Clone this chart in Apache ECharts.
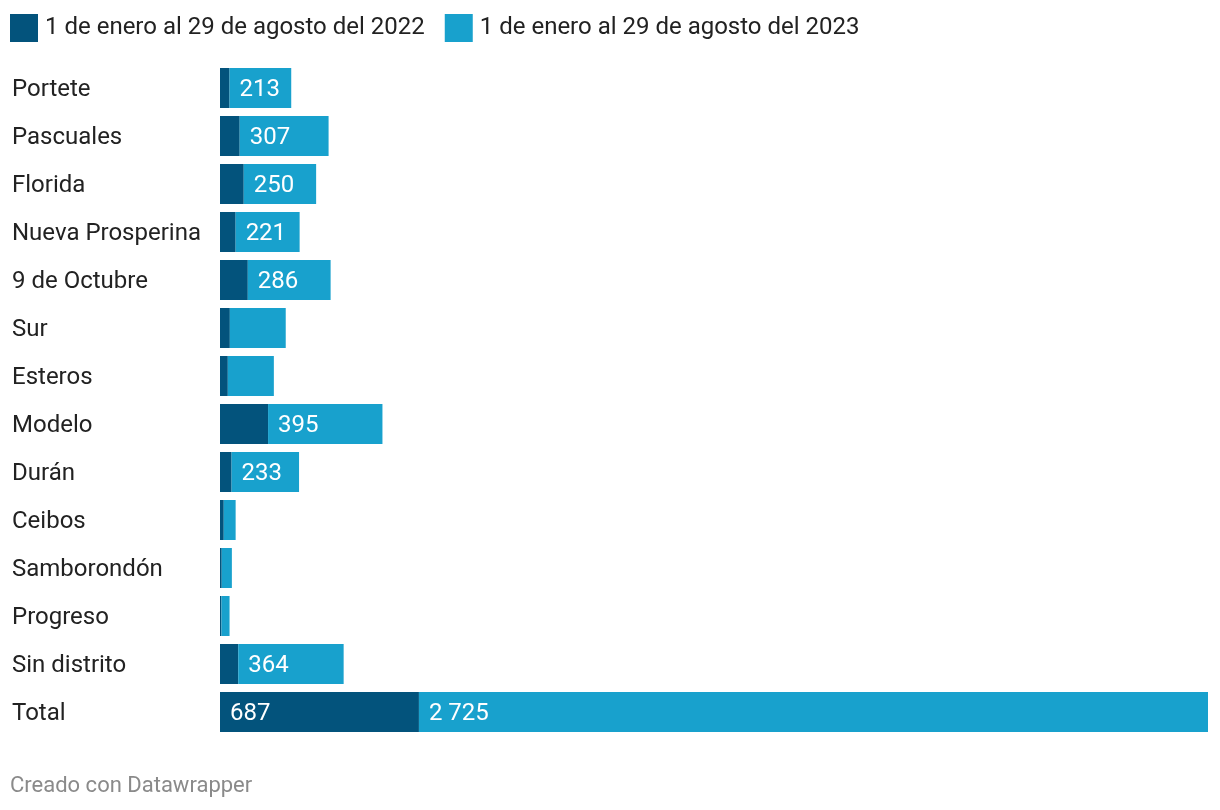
<!DOCTYPE html>
<html><head><meta charset="utf-8">
<script src="https://cdn.jsdelivr.net/npm/echarts@6/dist/echarts.min.js"></script>
<style>html,body{margin:0;padding:0;background:#fff}#c{width:1220px;height:810px}</style>
</head><body><div id="c"></div>
<script>
const categories = ["Portete","Pascuales","Florida","Nueva Prosperina","9 de Octubre","Sur","Esteros","Modelo","Durán","Ceibos","Samborondón","Progreso","Sin distrito","Total"];
const values2022 = [33,68,82,54,96,34,27,166,40,13,6,5,63,687];
const values2023 = [213,307,250,221,286,193,159,395,233,41,35,28,364,2725];
const labeled2022 = ["Total"];
const labeled2023 = ["Portete","Pascuales","Florida","Nueva Prosperina","9 de Octubre","Modelo","Durán","Sin distrito","Total"];
const seriesNames = ["1 de enero al 29 de agosto del 2022","1 de enero al 29 de agosto del 2023"];

const fmt = v => String(v).replace(/\B(?=(\d{3})+(?!\d))/g, " ");
const font = "Roboto, 'Noto Sans', sans-serif";
const chart = echarts.init(document.getElementById('c'), null, {renderer:'canvas'});
const lbl = (cat) => ({show:true, position:'insideLeft', distance:10, offset:[0,2], color:'#fff', fontSize:24, fontFamily:font, formatter:p=>fmt(p.value)});
chart.setOption({
  animation:false,
  textStyle:{fontFamily:font},
  legend:{left:10, top:14, padding:0, itemWidth:28, itemHeight:28, itemGap:20, icon:'rect',
    textStyle:{fontSize:24, color:'#222', fontFamily:font, padding:[2,0,0,2]},
    data:seriesNames},
  grid:{left:220, right:12, top:64, height:672, containLabel:false},
  xAxis:{type:'value', min:0, max:3412, show:false},
  yAxis:{type:'category', inverse:true, data:categories,
    axisLine:{show:false}, axisTick:{show:false}, splitLine:{show:false},
    axisLabel:{align:'left', margin:208, fontSize:24, color:'#222', fontFamily:font,
      formatter:'{a|{value}}', rich:{a:{fontSize:24, color:'#222', fontFamily:font, padding:[4,0,0,0]}}}},
  series:[
    {name:seriesNames[0], type:'bar', stack:'a', barCategoryGap:'16.7%', itemStyle:{color:'#03537c'},
     data:categories.map((c,i)=>({value:values2022[i], label: labeled2022.includes(c)? lbl(c) : {show:false}}))},
    {name:seriesNames[1], type:'bar', stack:'a', barCategoryGap:'16.7%', itemStyle:{color:'#18a1cd'},
     data:categories.map((c,i)=>({value:values2023[i], label: labeled2023.includes(c)? lbl(c) : {show:false}}))}
  ],
  graphic:[{type:'text', left:10, top:775, style:{text:'Creado con Datawrapper', fontSize:22, fill:'#8a8a8a', fontFamily:font}}]
});
</script></body></html>
